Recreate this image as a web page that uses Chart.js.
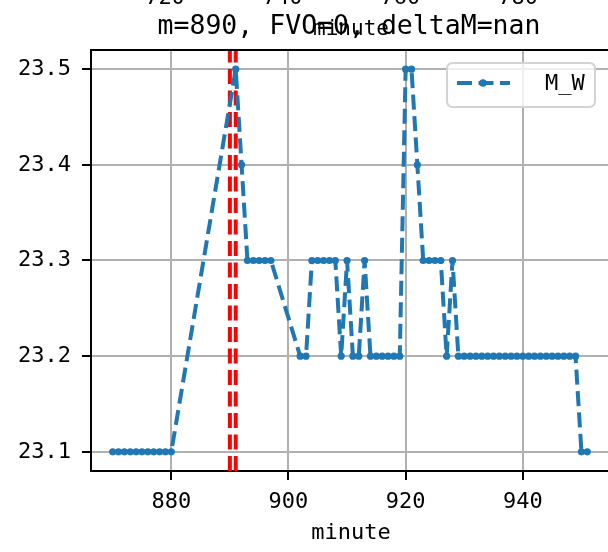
<!DOCTYPE html>
<html>
<head>
<meta charset="utf-8">
<script src="https://cdn.jsdelivr.net/npm/chart.js@4.4.0/dist/chart.umd.min.js"></script>
<style>
html, body { margin: 0; padding: 0; background: #fff; overflow: hidden; }
#wrap { width: 608px; height: 552px; overflow: hidden; }
</style>
</head>
<body>
<div id="wrap"><canvas id="mwChart" width="616" height="552"></canvas></div>
<script>
/* M_W by minute */

const minutes = [
    870, 871, 872, 873, 874, 875, 876, 877, 878, 879, 880,
    891, 892,
    893, 894, 895, 896, 897,
    902, 903,
    904, 905, 906, 907, 908,
    909, 910, 911, 912, 913,
    914, 915, 916, 917, 918, 919,
    920, 921, 922,
    923, 924, 925, 926,
    927, 928,
    929, 930, 931, 932, 933, 934, 935, 936, 937, 938, 939,
    940, 941, 942, 943, 944, 945, 946, 947, 948, 949,
    950, 951
];

const mwValues = [
    23.1, 23.1, 23.1, 23.1, 23.1, 23.1, 23.1, 23.1, 23.1, 23.1, 23.1,
    23.5, 23.4,
    23.3, 23.3, 23.3, 23.3, 23.3,
    23.2, 23.2,
    23.3, 23.3, 23.3, 23.3, 23.3,
    23.2, 23.3, 23.2, 23.2, 23.3,
    23.2, 23.2, 23.2, 23.2, 23.2, 23.2,
    23.5, 23.5, 23.4,
    23.3, 23.3, 23.3, 23.3,
    23.2, 23.3,
    23.2, 23.2, 23.2, 23.2, 23.2, 23.2, 23.2, 23.2, 23.2, 23.2, 23.2,
    23.2, 23.2, 23.2, 23.2, 23.2, 23.2, 23.2, 23.2, 23.2, 23.2,
    23.1, 23.1
];

const markerMinutes = [890, 891];

const xTicks = [880, 900, 920, 940];
const yTicks = [23.1, 23.2, 23.3, 23.4, 23.5];
const topTicks = [720, 740, 760, 780];

const titleText = "m=890, FVO=0, deltaM=nan";
const seriesName = "M_W";

const FONT = "'DejaVu Sans Mono', monospace";
const BLUE = "#1f77b4";
const GRID = "#b0b0b0";
const DASH = [15, 6.5];

const xMin = 866.3, xMax = 955.05;
const yMin = 23.08, yMax = 23.52;

const mwPoints = minutes.map((m, i) => ({ x: m, y: mwValues[i] }));

const markerSets = markerMinutes.map(m => ({
    data: [{ x: m, y: yMin }, { x: m, y: yMax }],
    borderColor: "#ff0000",
    borderWidth: 4,
    borderDash: DASH,
    pointRadius: 0,
    fill: false
}));

/* title, top spine, legend and the clipped neighbour axis */
const extras = {
    id: "extras",
    afterDraw(chart) {
        const ctx = chart.ctx;
        const a = chart.chartArea;
        const cx = (a.left + a.right) / 2;

        ctx.save();

        ctx.strokeStyle = "#000";
        ctx.lineWidth = 2;
        ctx.beginPath();
        ctx.moveTo(a.left - 1, a.top);
        ctx.lineTo(a.right + 1, a.top);
        ctx.lineTo(a.right, a.bottom);
        ctx.stroke();

        // legend box
        const bw = 148, bh = 44;
        const bx = a.right - 16 - bw, by = a.top + 13;
        const r = 6;
        ctx.beginPath();
        ctx.moveTo(bx + r, by);
        ctx.lineTo(bx + bw - r, by);
        ctx.quadraticCurveTo(bx + bw, by, bx + bw, by + r);
        ctx.lineTo(bx + bw, by + bh - r);
        ctx.quadraticCurveTo(bx + bw, by + bh, bx + bw - r, by + bh);
        ctx.lineTo(bx + r, by + bh);
        ctx.quadraticCurveTo(bx, by + bh, bx, by + bh - r);
        ctx.lineTo(bx, by + r);
        ctx.quadraticCurveTo(bx, by, bx + r, by);
        ctx.closePath();
        ctx.fillStyle = "rgba(255,255,255,0.8)";
        ctx.fill();
        ctx.strokeStyle = "#d3d3d3";
        ctx.lineWidth = 2;
        ctx.stroke();

        const ly = by + bh / 2 - 2;
        ctx.strokeStyle = BLUE;
        ctx.lineWidth = 4;
        ctx.setLineDash(DASH);
        ctx.beginPath();
        ctx.moveTo(bx + 10, ly);
        ctx.lineTo(bx + 63, ly);
        ctx.stroke();
        ctx.setLineDash([]);
        ctx.fillStyle = BLUE;
        ctx.beginPath();
        ctx.arc(bx + 36, ly, 3.8, 0, Math.PI * 2);
        ctx.fill();

        ctx.fillStyle = "#000";
        ctx.textAlign = "left";
        ctx.textBaseline = "middle";
        ctx.font = "22px " + FONT;
        ctx.fillText(seriesName, bx + 98, ly + 1);

        // title
        ctx.textAlign = "center";
        ctx.textBaseline = "alphabetic";
        ctx.font = "26.5px " + FONT;
        ctx.fillText(titleText, cx - 2, 34);

        // tick labels and x label of the subplot above, cut by the page edge
        ctx.font = "22px " + FONT;
        topTicks.forEach((t, i) => ctx.fillText(String(t), 165 + i * 117.7, 4));
        ctx.font = "21px " + FONT;
        ctx.fillText("minute", cx, 35);

        ctx.restore();
    }
};

Chart.defaults.font.family = FONT;
Chart.defaults.color = "#000";

new Chart(document.getElementById("mwChart"), {

    type: "line",

    data: {
        datasets: [
            {
                label: seriesName,
                data: mwPoints,
                borderColor: BLUE,
                backgroundColor: BLUE,
                borderWidth: 4,
                borderDash: DASH,
                pointRadius: 3.6,
                pointBorderWidth: 0,
                pointBackgroundColor: BLUE,
                tension: 0,
                fill: false
            },
            ...markerSets
        ]
    },

    options: {
        responsive: false,
        animation: false,
        devicePixelRatio: 1,
        layout: { padding: { top: 50, right: 5, left: 0, bottom: 0 } },
        plugins: {
            legend: { display: false },
            tooltip: { enabled: false }
        },
        scales: {
            x: {
                type: "linear",
                min: xMin,
                max: xMax,
                afterBuildTicks: s => { s.ticks = xTicks.map(v => ({ value: v })); },
                afterFit: s => { s.height = 81; },
                grid: {
                    color: GRID,
                    lineWidth: 2,
                    tickColor: "#000",
                    tickLength: 9,
                    tickWidth: 2
                },
                border: { color: "#000", width: 2 },
                ticks: {
                    font: { size: 22 },
                    padding: 9,
                    maxRotation: 0,
                    callback: v => String(v)
                },
                title: {
                    display: true,
                    text: "minute",
                    font: { size: 22 },
                    padding: { top: 0, bottom: 6 }
                }
            },
            y: {
                min: yMin,
                max: yMax,
                afterBuildTicks: s => { s.ticks = yTicks.map(v => ({ value: v })); },
                afterFit: s => { s.width = 91; },
                grid: {
                    color: GRID,
                    lineWidth: 2,
                    tickColor: "#000",
                    tickLength: 9,
                    tickWidth: 2
                },
                border: { color: "#000", width: 2 },
                ticks: {
                    font: { size: 22 },
                    padding: 11,
                    callback: v => v.toFixed(1)
                }
            }
        }
    },

    plugins: [extras]

});
</script>
</body>
</html>
